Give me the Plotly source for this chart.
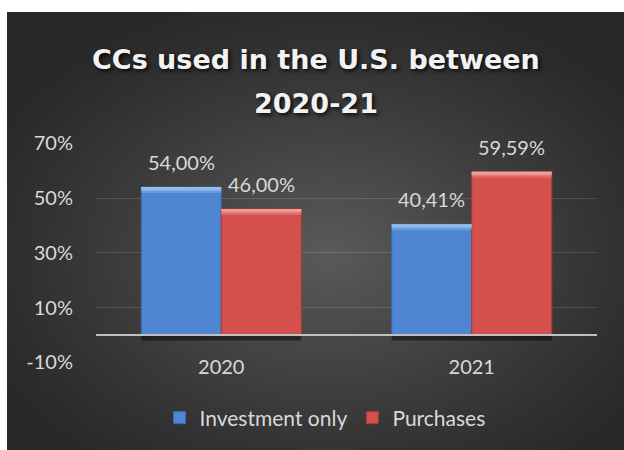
import numpy as np
import plotly.graph_objects as go

# ---- data ----
years = ["2020", "2021"]
investment_only = [54.00, 40.41]
purchases = [46.00, 59.59]
y_ticks = [-10, 10, 30, 50, 70]
y_range = [-10, 70]
title_lines = ["CCs used in the U.S. between", "2020-21"]

W, H = 624, 450

# panel and plot-area geometry (pixels)
panel_left, panel_top = 7, 12
plot_left, plot_right = 96, 597
plot_top, plot_bottom = 143.2, 362.4

px = lambda v: v / W
py = lambda v: 1 - v / H

ydom = [py(plot_bottom), py(plot_top)]
zero_pos = ydom[0] + (0 - y_range[0]) / (y_range[1] - y_range[0]) * (ydom[1] - ydom[0])

fig = go.Figure()

# radial grey backdrop for the chart panel
nx, ny = 80, 60
gx = np.linspace(0, 1, nx)
gy = np.linspace(0, 1, ny)
X, Y = np.meshgrid(gx, gy)
r = np.sqrt(((X - 0.52) / 0.62) ** 2 + ((Y - 0.45) / 0.62) ** 2)
shade = np.clip(1 - r, 0, 1) ** 1.15
fig.add_trace(go.Heatmap(
    x=gx, y=gy, z=shade, zsmooth="best", showscale=False, hoverinfo="skip",
    colorscale=[[0, "rgb(40,40,40)"], [1, "rgb(90,90,90)"]], zmin=0, zmax=1,
    xaxis="x", yaxis="y",
))

series = [
    ("Investment only", investment_only, "#4f86d2", "#3a69ad", "#9cc2f0", "inv", -40),
    ("Purchases", purchases, "#d4504c", "#a83a37", "#f2a3a0", "pur", 40),
]

for name, vals, body, edge, hi, grp, shift in series:
    fig.add_trace(go.Bar(
        name=name, x=years, y=vals, offsetgroup=grp,
        marker=dict(color=body, line=dict(color=edge, width=1)),
        xaxis="x2", yaxis="y2", hoverinfo="skip",
    ))

# bevel highlight along the top of each bar
for name, vals, body, edge, hi, grp, shift in series:
    for band, alpha in [(2.2, 0.35), (1.4, 0.55), (0.7, 0.8)]:
        fig.add_trace(go.Bar(
            x=years, y=[band] * len(vals), base=[v - band for v in vals], offsetgroup=grp,
            marker=dict(color=hi, opacity=alpha, line=dict(width=0)),
            xaxis="x2", yaxis="y2", showlegend=False, hoverinfo="skip",
        ))

# soft shadow under the bars
for name, vals, body, edge, hi, grp, shift in series:
    fig.add_trace(go.Bar(
        x=years, y=[2.0] * len(vals), base=[-2.0] * len(vals), offsetgroup=grp,
        marker=dict(color="rgba(0,0,0,0.45)", line=dict(width=0)),
        xaxis="x2", yaxis="y2", showlegend=False, hoverinfo="skip",
    ))

# value labels
label_font = dict(family="Lato", size=20, color="#d9d9d9")
for name, vals, body, edge, hi, grp, shift in series:
    for i, v in enumerate(vals):
        fig.add_annotation(
            x=i, y=v, xref="x2", yref="y2", text=f"{v:.2f}".replace(".", ",") + "%",
            showarrow=False, xshift=shift, yshift=25, yanchor="middle",
            font=label_font,
        )

# two-line chart title
title_font = dict(family="DejaVu Sans", size=27, weight="bold", color="#f2f2f2",
                  shadow="2px 2px 4px rgba(0,0,0,0.85)")
for line, yc in zip(title_lines, [59, 103]):
    fig.add_annotation(
        x=px(315.5), y=py(yc), xref="paper", yref="paper", text=line,
        showarrow=False, xanchor="center", yanchor="middle", font=title_font,
    )

fig.update_layout(
    template="none",
    width=W, height=H,
    margin=dict(l=0, r=0, t=0, b=0, pad=0),
    paper_bgcolor="white",
    plot_bgcolor="rgba(0,0,0,0)",
    barmode="group", bargap=0.361, bargroupgap=0,
    showlegend=True,
    legend=dict(
        orientation="h", x=px(325), xanchor="center", y=py(418), yanchor="middle",
        font=dict(family="Lato", size=21, color="#d9d9d9"),
        bgcolor="rgba(0,0,0,0)", itemclick=False, itemdoubleclick=False,
    ),
    xaxis=dict(domain=[px(panel_left), 1], range=[0, 1], visible=False,
               fixedrange=True, automargin=False),
    yaxis=dict(domain=[0, py(panel_top)], range=[0, 1], visible=False,
               fixedrange=True, automargin=False),
    xaxis2=dict(
        domain=[px(plot_left), px(plot_right)], type="category", range=[-0.5, 1.5],
        anchor="free", position=zero_pos, automargin=False,
        showline=True, linecolor="#c0c0c0", linewidth=2, layer="above traces",
        showgrid=False, zeroline=False, ticks="", ticklabelstandoff=14,
        tickfont=dict(family="Lato", size=20, color="#d9d9d9"),
    ),
    yaxis2=dict(
        domain=ydom, range=y_range, anchor="x2", automargin=False,
        tickvals=y_ticks, ticktext=[f"{t}%" for t in y_ticks], ticks="",
        showgrid=True, gridcolor="rgba(255,255,255,0.13)", gridwidth=1,
        zeroline=False, showline=False, ticklabelstandoff=22,
        tickfont=dict(family="Lato", size=20, color="#d9d9d9"),
    ),
)

fig.write_html("out.html")
